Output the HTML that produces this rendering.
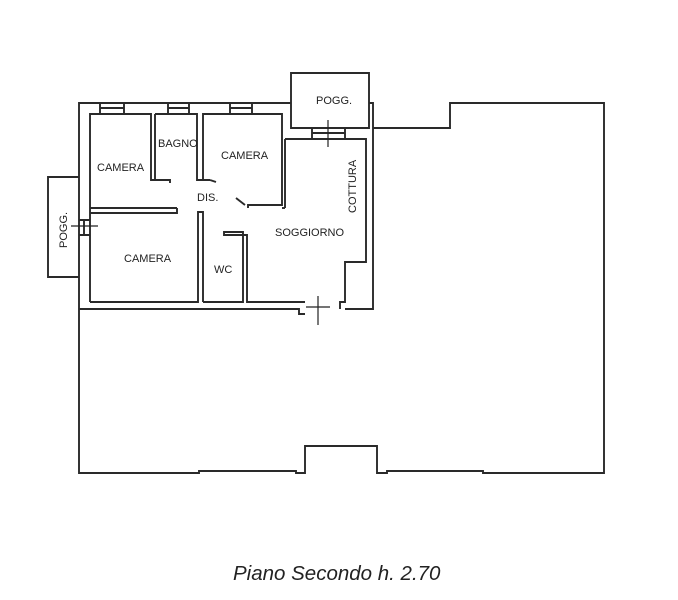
<!DOCTYPE html>
<html><head><style>
html,body{margin:0;padding:0;background:#fff;}
svg{display:block;}
text{font-family:"Liberation Sans",sans-serif;fill:#222;}
</style></head><body>
<svg width="678" height="600" viewBox="0 0 678 600" xmlns="http://www.w3.org/2000/svg">
<g fill="none" stroke="#2a2a2a" stroke-width="1.9">
<path d="M373,128 L450,128 L450,103 L604,103 L604,473 L483,473 L483,471 L387,471 L387,473 L377,473 L377,446 L305,446 L305,473 L296,473 L296,471 L199,471 L199,473 L79,473 L79,309"/>
<path d="M79,309 L79,103 L291,103"/>
<path d="M369,103 L373,103 L373,262"/>
<path d="M90,302 L90,114 L151,114 L151,180 L170,180 L170,183"/>
<path d="M155,114 L155,180"/>
<path d="M155,114 L197,114 L197,180 L210,180"/>
<path d="M203,180 L203,114 L282,114 L282,205 L248,205 L248,208"/>
<path d="M285,139 L366,139 L366,262 L345,262 L345,302 L340,302 L340,309"/>
<path d="M79,309 L299,309 L299,314 L305,314"/>
<path d="M90,208 L177,208 M90,213 L177,213 L177,208"/>
<path d="M90,302 L198,302 L198,212 L203,212 L203,302 M203,302 L243,302 L243,232 L224,232 L224,235 L247,235 L247,302 L305,302"/>
<path d="M285,139 L285,208"/>
<path d="M373,262 L373,309 L345,309"/>
<path d="M285,208 L282,208"/>
<path d="M236,198 L245,205"/>
<path d="M210,180 L216,182"/>
<path d="M291,103 L291,73 L369,73 L369,128 L291,128 L291,103"/>
<path d="M312,128 L312,139 M345,128 L345,139 M312,133 L345,133"/>
<path d="M79,177 L48,177 L48,277 L79,277"/>
<path d="M79,220 L90,220 M79,235 L90,235 M84,220 L84,235"/>
<path d="M100,103 L100,114 M124,103 L124,114 M100,108 L124,108"/>
<path d="M168,103 L168,114 M189,103 L189,114 M168,108 L189,108"/>
<path d="M230,103 L230,114 M252,103 L252,114 M230,108 L252,108"/>
</g>
<g stroke="#222" stroke-width="1.2">
<line x1="328" y1="120" x2="328" y2="147"/>
<line x1="318" y1="296" x2="318" y2="325"/>
<line x1="306" y1="307" x2="330" y2="307"/>
<line x1="71" y1="226" x2="98" y2="226"/>
</g>
<g font-size="11">
<text x="97" y="171">CAMERA</text>
<text x="158" y="147">BAGNO</text>
<text x="221" y="159">CAMERA</text>
<text x="197" y="201">DIS.</text>
<text x="124" y="262">CAMERA</text>
<text x="214" y="273">WC</text>
<text x="275" y="236">SOGGIORNO</text>
<text x="316" y="104">POGG.</text>
<text transform="translate(356,213) rotate(-90)">COTTURA</text>
<text transform="translate(67,248) rotate(-90)">POGG.</text>
</g>
<text x="233" y="580" font-size="20.5" font-style="italic">Piano Secondo h. 2.70</text>
</svg>
</body></html>
